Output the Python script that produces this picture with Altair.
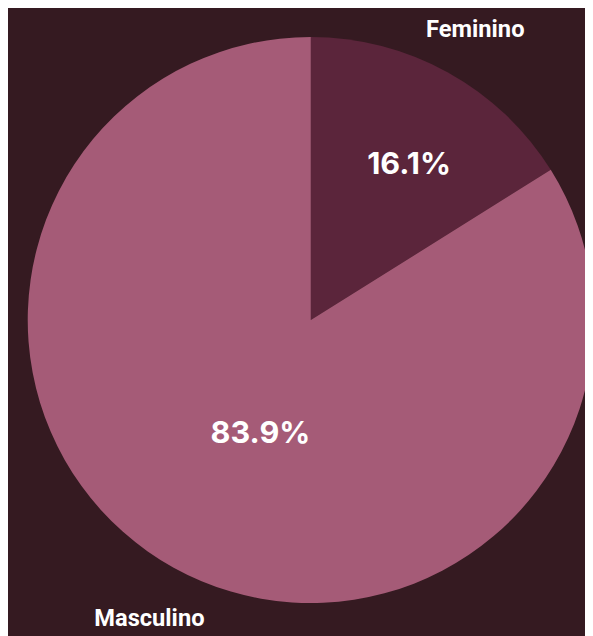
import altair as alt
import pandas as pd

generos = ["Feminino", "Masculino"]
percentuais = [16.1, 83.9]
rotulos = ["16.1%", "83.9%"]
cores = ["#5b253b", "#a55b77"]

df = pd.DataFrame({"genero": generos, "pct": percentuais, "rotulo": rotulos})

CX, CY = 307, 312

pie = alt.Chart(df).mark_arc(radius=287, stroke=None).encode(
    theta=alt.Theta("pct:Q", stack=True),
    order=alt.Order("genero:N"),
    color=alt.Color("genero:N", scale=alt.Scale(domain=generos, range=cores), legend=None),
    x=alt.value(CX), y=alt.value(CY),
)

lab = alt.Chart(df).transform_joinaggregate(
    total="sum(pct)"
).transform_window(
    cum="sum(pct)", sort=[alt.SortField("genero", order="ascending")]
).transform_calculate(
    mid="(datum.cum - datum.pct / 2) / datum.total * 2 * PI"
)

pct_text = lab.mark_text(
    font="Inter", fontWeight="bold", fontSize=31, color="white",
    align="center", baseline="middle", dx=10, dy=5,
).encode(
    text="rotulo:N",
    theta=alt.Theta("mid:Q", scale=None, stack=False),
    radius=alt.Radius("r:Q", scale=None),
    x=alt.value(CX), y=alt.value(CY),
).transform_calculate(r="datum.genero == 'Feminino' ? 185 : 126")

name_text = lab.mark_text(
    font="Roboto", fontWeight="bold", fontSize=24, color="white",
    align="center", baseline="middle", dx=3, dy=2,
).encode(
    text="genero:N",
    theta=alt.Theta("mid:Q", scale=None, stack=False),
    radius=alt.Radius("r:Q", scale=None),
    x=alt.value(CX), y=alt.value(CY),
).transform_calculate(r="datum.genero == 'Feminino' ? 338 : 344")

chart = alt.layer(pie, pct_text, name_text).properties(
    width=585, height=628, padding=0,
    autosize=alt.AutoSizeParams(type="none"),
    background="#351a21",
).configure_view(stroke=None)

chart.save("out.html", embed_options={"renderer": "svg", "actions": False})
